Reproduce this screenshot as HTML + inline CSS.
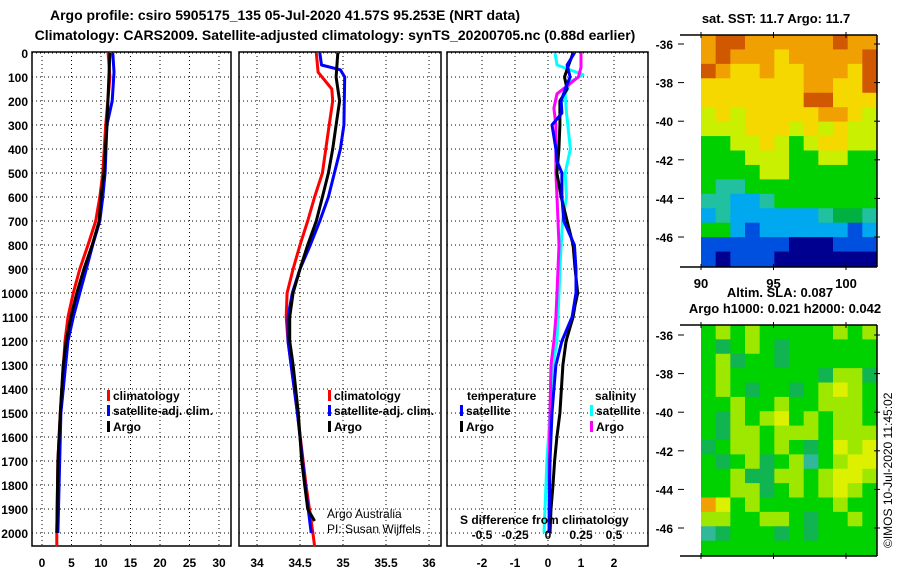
<!DOCTYPE html>
<html><head><meta charset="utf-8">
<style>
body{margin:0;background:#fff;}
svg{display:block;}
text{font-family:"Liberation Sans",sans-serif;font-weight:bold;fill:#000;}
</style></head>
<body>
<svg id="chart" width="900" height="580" viewBox="0 0 900 580" xmlns="http://www.w3.org/2000/svg">
<text x="285" y="20" font-size="14" text-anchor="middle">Argo profile: csiro 5905175_135 05-Jul-2020 41.57S 95.253E (NRT data)</text>
<text x="335" y="40" font-size="14" text-anchor="middle">Climatology: CARS2009. Satellite-adjusted climatology: synTS_20200705.nc (0.88d earlier)</text>
<text x="776" y="23" font-size="13" text-anchor="middle">sat. SST: 11.7 Argo: 11.7</text>
<text x="780" y="297" font-size="13" text-anchor="middle">Altim. SLA: 0.087</text>
<text x="785" y="313" font-size="13" text-anchor="middle">Argo h1000: 0.021 h2000: 0.042</text>
<text x="0" y="0" font-size="12" transform="translate(892,548) rotate(-90)" style="font-weight:normal">©IMOS 10-Jul-2020 11:45:02</text>
<g id="g"></g>
</svg>
<script>
// ---- depth axis ----
const depthTicks=[0,100,200,300,400,500,600,700,800,900,1000,1100,1200,1300,1400,1500,1600,1700,1800,1900,2000];
// ---- temperature panel ----
const tTicks=[0,5,10,15,20,25,30];
const tArgoD=[0,300,500,600,700,800,900,1000,1100,1200,1300,1500,1700,2000];
const tArgoV=[11.5,11.0,10.5,10.0,9.7,8.5,7.1,5.9,4.9,4.1,3.6,3.1,2.7,2.5];
const tClimD=[0,100,300,500,600,700,800,900,1000,1100,1200,1500,1700,2000,2055];
const tClimV=[11.2,11.5,10.8,10.3,9.8,9.1,7.8,6.4,5.3,4.4,3.9,3.1,2.7,2.5,2.5];
const tSatD=[0,80,200,300,500,600,700,800,900,1000,1100,1200,1500,2000];
const tSatV=[12.0,12.2,11.9,11.0,10.7,10.3,9.8,8.6,7.5,6.4,5.3,4.4,3.2,2.7];
// ---- salinity panel ----
const sTicks=[34,34.5,35,35.5,36];
const sArgoD=[0,100,200,300,400,500,600,700,800,900,1000,1100,1200,1300,1500,1700,1900,1950];
const sArgoV=[34.94,34.92,34.96,34.92,34.88,34.83,34.76,34.69,34.59,34.5,34.42,34.38,34.38,34.42,34.48,34.52,34.59,34.67];
const sClimD=[0,80,150,200,300,400,500,600,700,800,900,1000,1100,1200,1500,1800,2000,2055];
const sClimV=[34.69,34.71,34.87,34.88,34.84,34.8,34.76,34.67,34.59,34.5,34.42,34.35,34.34,34.36,34.47,34.57,34.65,34.67];
const sSatD=[0,50,70,100,300,400,500,600,700,800,900,1000,1100,1200,1500,1800,2000];
const sSatV=[34.73,34.75,34.97,35.02,35.01,34.97,34.9,34.83,34.73,34.62,34.5,34.41,34.36,34.36,34.47,34.56,34.63];
// ---- difference panel ----
const dTicks=[-2,-1,0,1,2];
const dsTickLabels=["-0.5","-0.25","0","0.25","0.5"];
const dArgoTD=[0,60,100,150,200,300,400,500,600,700,800,900,1000,1050,1100,1200,1300,1500,1600,1700,1800,1900,2000];
const dArgoTV=[0.76,0.6,0.5,0.58,0.36,0.36,0.33,0.27,0.4,0.58,0.76,0.82,0.9,0.82,0.76,0.55,0.45,0.36,0.27,0.2,0.15,0.09,0.06];
const dSatTD=[0,50,100,150,200,250,300,400,450,500,600,700,800,900,1000,1100,1200,1300,1400,1500,1700,2000];
const dSatTV=[0.8,0.58,0.67,0.52,0.4,0.42,0.12,0.24,0.27,0.42,0.42,0.48,0.8,0.85,0.85,0.73,0.42,0.24,0.18,0.12,0.06,0.03];
const dSatSD=[0,50,90,120,170,250,400,500,600,700,800,900,1000,1100,1200,1300,1400,1500,1700,1900,2000];
const dSatSV=[0.053,0.068,0.265,0.17,0.13,0.14,0.17,0.13,0.14,0.11,0.1,0.09,0.083,0.076,0.068,0.038,0.023,0.015,-0.008,-0.023,-0.03];
const dArgoSD=[0,60,100,170,230,300,400,500,600,700,800,900,1000,1100,1200,1300,1500,1700,1900,2000];
const dArgoSV=[0.25,0.25,0.23,0.068,0.045,0.06,0.06,0.06,0.068,0.076,0.083,0.076,0.068,0.06,0.045,0.023,0.015,0.008,0.008,0.008];
// ---- maps ----
const latTicks=[-36,-38,-40,-42,-44,-46];
const lonTicks=[90,95,100];
const sstGrid=["orrooooooroo","oroooyooooor","royyoyyoooyr","yyyyyyyooyyr","yyyyyyyrryyy","lylyyyyyooyl","lllyyylylyll","ggllylglyyll","ggglllggllgg","ggggllgggggg","gttggggggggg","ttcctggggggg","ctcccccctGGt","ggcbccccccbc","bbbbbbnnnbbb","bnbbbnnnnnnn"];
const slaGrid=["glglggggglgl","gGglgGgggggg","glGggGgggggg","glggggggGllG","glgGggGglylg","gglgglgglllg","gGlglyglgllg","gGllglllglll","GgllglgGgyly","gGglGgltglyy","gglGGllglyyl","ggllGglglylg","oyglggggglgg","llggllgGgglg","tGgggGgGgggg","gggggggggggg"];
const sstColors={r:"#d05800",o:"#f0a000",y:"#f4d800",l:"#c8f000",g:"#00d000",G:"#00b040",t:"#20c0a0",c:"#00a8f0",b:"#0050e0",n:"#000090"};
const slaColors={g:"#00d200",l:"#9ee800",y:"#dcf000",G:"#10b450",t:"#30b898",o:"#f0a000"};

const NS="http://www.w3.org/2000/svg";
const G=document.getElementById('g');
function mk(tag,attrs,parent){const e=document.createElementNS(NS,tag);for(const k in attrs)e.setAttribute(k,attrs[k]);(parent||G).appendChild(e);return e;}
const y0=53, pxPer100=24, yBot=546;
function yD(d){return y0+d/100*pxPer100;}
const panels=[
 {l:32,r:231,x:v=>42+v*5.9,ticks:tTicks,name:"temperature"},
 {l:239,r:441,x:v=>257+(v-34)*86,ticks:sTicks,name:"salinity"},
 {l:447,r:648,x:v=>548+v*33,ticks:dTicks,name:"difference"}
];
function sx(v){return 548+v*132;}
panels.forEach((p,i)=>{
  const grp=mk('g',{});
  
  
  depthTicks.forEach(d=>{mk('line',{x1:p.l,x2:p.r,y1:yD(d),y2:yD(d),stroke:'#000','stroke-width':1,'stroke-dasharray':'1,3'},grp);});
  p.ticks.forEach((t,j)=>{
    const x=p.x(t);
    mk('line',{x1:x,x2:x,y1:y0-1,y2:yBot,stroke:'#000','stroke-width':1,'stroke-dasharray':'1,3'},grp);
    const tx=mk('text',{x:x,y:567,'font-size':12,'text-anchor':'middle'},grp);
    tx.textContent=String(t);
    
    
  });
  mk('rect',{x:p.l,y:52,width:p.r-p.l,height:yBot-52,fill:'none',stroke:'#000','stroke-width':1.5},grp);
});
depthTicks.forEach(d=>{
  const t=mk('text',{x:28,y:yD(d)+5,'font-size':12,'text-anchor':'end'});
  t.textContent=String(d);
  
  
});
function series(D,V,fx,color,name){
  const pts=D.map((d,i)=>fx(V[i]).toFixed(1)+','+yD(d).toFixed(1)).join(' ');
  const e=mk('polyline',{points:pts,fill:'none',stroke:color,'stroke-width':3,'stroke-linejoin':'round'});
  
  
}
series(tClimD,tClimV,panels[0].x,'#f00','temp-climatology-line');
series(tSatD,tSatV,panels[0].x,'#00f','temp-satellite-line');
series(tArgoD,tArgoV,panels[0].x,'#000','temp-argo-line');
series(sClimD,sClimV,panels[1].x,'#f00','sal-climatology-line');
series(sSatD,sSatV,panels[1].x,'#00f','sal-satellite-line');
series(sArgoD,sArgoV,panels[1].x,'#000','sal-argo-line');
series(dSatSD,dSatSV,sx,'#00ffff','sdiff-satellite-line');
series(dArgoSD,dArgoSV,sx,'#ff00ff','sdiff-argo-line');
series(dArgoTD,dArgoTV,panels[2].x,'#000','tdiff-argo-line');
series(dSatTD,dSatTV,panels[2].x,'#0000ff','tdiff-satellite-line');
function legendEntry(x,y,color,label,name){
  mk('rect',{x:x,y:y-10,width:3,height:11,fill:color});
  const t=mk('text',{x:x+6,y:y,'font-size':12});
  t.textContent=label;
  
  
}
[[107,'t'],[328,'s']].forEach(([lx,pre])=>{
  legendEntry(lx,400,'#f00','climatology',pre+'-legend-climatology');
  legendEntry(lx,415,'#00f','satellite-adj. clim.',pre+'-legend-satellite');
  legendEntry(lx,431,'#000','Argo',pre+'-legend-argo');
});
let tt=mk('text',{x:467,y:400,'font-size':12});tt.textContent='temperature';


tt=mk('text',{x:595,y:400,'font-size':12});tt.textContent='salinity';


legendEntry(460,415,'#00f','satellite','legend-tdiff-satellite');
legendEntry(460,431,'#000','Argo','legend-tdiff-argo');
legendEntry(590,415,'#00ffff','satellite','legend-sdiff-satellite');
legendEntry(590,431,'#ff00ff','Argo','legend-sdiff-argo');
tt=mk('text',{x:460,y:524,'font-size':12});tt.textContent='S difference from climatology';


dsTickLabels.forEach((l,i)=>{
  const t=mk('text',{x:sx(parseFloat(l)),y:539,'font-size':12,'text-anchor':'middle'});
  t.textContent=l;
  
  
});
tt=mk('text',{x:327,y:518,'font-size':12,style:'font-weight:normal'});tt.textContent='Argo Australia';


tt=mk('text',{x:327,y:533,'font-size':12,style:'font-weight:normal'});tt.textContent='PI: Susan Wijffels';


// maps
function drawMap(grid,colors,top,bot,latY0,name,showLon){
  const L=701,R=877,rows=grid.length;
  const grp=mk('g',{});
  
  
  grid.forEach((row,ri)=>{
    const cols=row.length,cw=(R-L)/cols,ch=(bot-top)/rows;
    for(let ci=0;ci<cols;ci++){
      const c=mk('rect',{x:L+ci*cw,y:top+ri*ch,width:cw+0.5,height:ch+0.5,fill:colors[row[ci]]||'#00d000'},grp);
      
      
    }
  });
  mk('line',{x1:680,x2:R,y1:top,y2:top,stroke:'#000','stroke-width':1.5},grp);
  mk('line',{x1:680,x2:R,y1:bot+1,y2:bot+1,stroke:'#000','stroke-width':1.5},grp);
  mk('line',{x1:R,x2:R,y1:top,y2:bot+1,stroke:'#000','stroke-width':1.5},grp);
  latTicks.forEach((lat,i)=>{
    const y=latY0+(-36-lat)/2*38.6;
    mk('line',{x1:678,x2:684,y1:y,y2:y,stroke:'#000'},grp);
    mk('line',{x1:R-3,x2:R+3,y1:y,y2:y,stroke:'#000'},grp);
    const t=mk('text',{x:673,y:y+5,'font-size':12,'text-anchor':'end'},grp);
    t.textContent=String(lat);
    
    
  });
  lonTicks.forEach(lon=>{
    const x=701+(lon-90)*14.5;
    mk('line',{x1:x,x2:x,y1:top-3,y2:top+3,stroke:'#000'},grp);
    mk('line',{x1:x,x2:x,y1:bot-2,y2:bot+4,stroke:'#000'},grp);
    if(showLon){
      const t=mk('text',{x:x,y:288,'font-size':13,'text-anchor':'middle'},grp);
      t.textContent=String(lon);
      
      
    }
  });
}
drawMap(sstGrid,sstColors,35,266,44,'sst-map',true);
drawMap(slaGrid,slaColors,325,555,335,'sla-map',false);
</script>
</body></html>
